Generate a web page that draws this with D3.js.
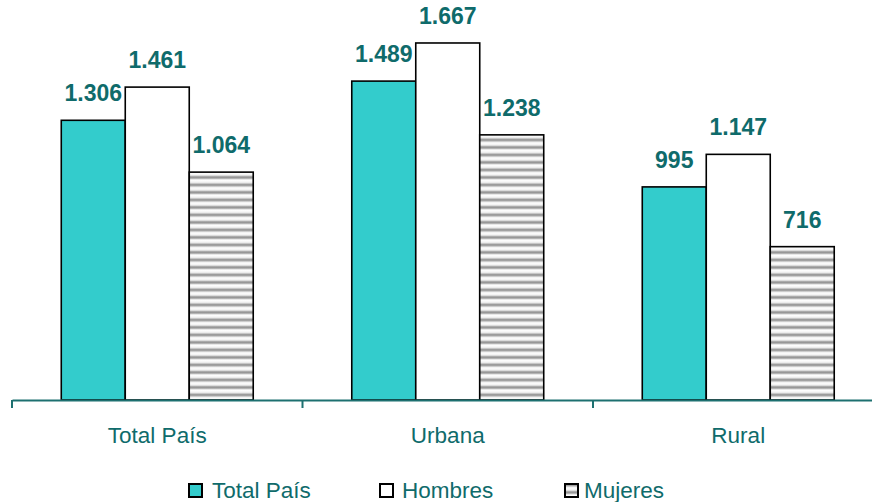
<!DOCTYPE html>
<html>
<head>
<meta charset="utf-8">
<script src="https://cdn.jsdelivr.net/npm/d3@7"></script>
<style>
  html, body { margin: 0; padding: 0; background: #fff; }
  svg { display: block; font-family: "Liberation Sans", Arial, sans-serif; }
</style>
</head>
<body>
<svg id="chart" width="872" height="502"></svg>
<script>
// Categories and series
const categories = ["Total País", "Urbana", "Rural"];
const seriesNames = ["Total País", "Hombres", "Mujeres"];
const totalPais = [1306, 1489, 995];
const hombres = [1461, 1667, 1147];
const mujeres = [1064, 1238, 716];
const seriesValues = [totalPais, hombres, mujeres];

const fmt = v => d3.format(",")(v).replace(/,/g, ".");

const svg = d3.select("#chart");
const textColor = "#0f6b6b";
const axisColor = "#1d7070";

// Horizontal stripe pattern for the "Mujeres" series
const defs = svg.append("defs");
const grad = defs.append("linearGradient")
  .attr("id", "stripeGrad").attr("x1", 0).attr("x2", 0).attr("y1", 0).attr("y2", 1);
[[0, "#ffffff"], [0.3, "#f4f4f4"], [0.45, "#cfcfcf"], [0.6, "#8e8e8e"], [0.75, "#9c9c9c"], [0.9, "#dcdcdc"], [1, "#ffffff"]]
  .forEach(([o, c]) => grad.append("stop").attr("offset", o).attr("stop-color", c));
const pat = defs.append("pattern")
  .attr("id", "stripes").attr("patternUnits", "userSpaceOnUse")
  .attr("width", 8).attr("height", 7.5);
pat.append("rect").attr("width", 8).attr("height", 7.5).attr("fill", "url(#stripeGrad)");

const fills = ["#33cccc", "#ffffff", "url(#stripes)"];

// Scales
const baseY = 400;
const y = d3.scaleLinear().domain([0, 1800]).range([baseY, 14.5]);
const x0 = d3.scaleBand().domain(categories).range([12, 12 + 3 * 290.5]).padding(0);
const x1 = d3.scaleBand().domain(seriesNames).range([0, x0.bandwidth()])
  .paddingInner(0).paddingOuter(0.77);

// Bars
const groups = svg.append("g").selectAll("g")
  .data(categories)
  .join("g")
  .attr("transform", c => `translate(${x0(c)},0)`);

groups.selectAll("rect")
  .data((c, ci) => seriesNames.map((s, si) => ({ s, si, v: seriesValues[si][ci] })))
  .join("rect")
  .attr("x", d => x1(d.s))
  .attr("y", d => y(d.v))
  .attr("width", x1.bandwidth())
  .attr("height", d => baseY - y(d.v))
  .attr("fill", d => fills[d.si])
  .attr("stroke", "#000")
  .attr("stroke-width", 1.6);

// Value labels
groups.selectAll("text")
  .data((c, ci) => seriesNames.map((s, si) => ({ s, si, v: seriesValues[si][ci] })))
  .join("text")
  .attr("x", d => x1(d.s) + x1.bandwidth() / 2)
  .attr("y", d => y(d.v) - 19)
  .attr("text-anchor", "middle")
  .attr("font-size", 23)
  .attr("font-weight", "bold")
  .attr("fill", textColor)
  .text(d => fmt(d.v));

// Category axis
const xAxis = d3.axisBottom(x0).tickSize(0).tickSizeOuter(0);
const axisG = svg.append("g").attr("transform", `translate(0,${baseY})`).call(xAxis);
axisG.select(".domain").attr("stroke", axisColor).attr("stroke-width", 2);
axisG.selectAll(".tick text")
  .attr("font-size", 22.5)
  .attr("font-family", "Liberation Sans, Arial, sans-serif")
  .attr("fill", textColor)
  .attr("dy", 0)
  .attr("y", 43);
// Separator ticks between categories
const bounds = categories.map(c => x0(c)).concat([x0.range()[1]]);
svg.append("g").selectAll("line")
  .data(bounds)
  .join("line")
  .attr("x1", d => d).attr("x2", d => d)
  .attr("y1", baseY).attr("y2", baseY + 8)
  .attr("stroke", axisColor).attr("stroke-width", 2);

// Legend
const legendSwatchX = [189, 380, 565];
const legendTextX = [212, 402, 584];
const legend = svg.append("g").selectAll("g")
  .data(seriesNames)
  .join("g");
legend.append("rect")
  .attr("x", (d, i) => legendSwatchX[i]).attr("y", 484)
  .attr("width", 13).attr("height", 13)
  .attr("fill", (d, i) => fills[i])
  .attr("stroke", "#000").attr("stroke-width", 2);
legend.append("text")
  .attr("x", (d, i) => legendTextX[i]).attr("y", 498)
  .attr("font-size", 22.5)
  .attr("fill", textColor)
  .text(d => d);
</script>
</body>
</html>
